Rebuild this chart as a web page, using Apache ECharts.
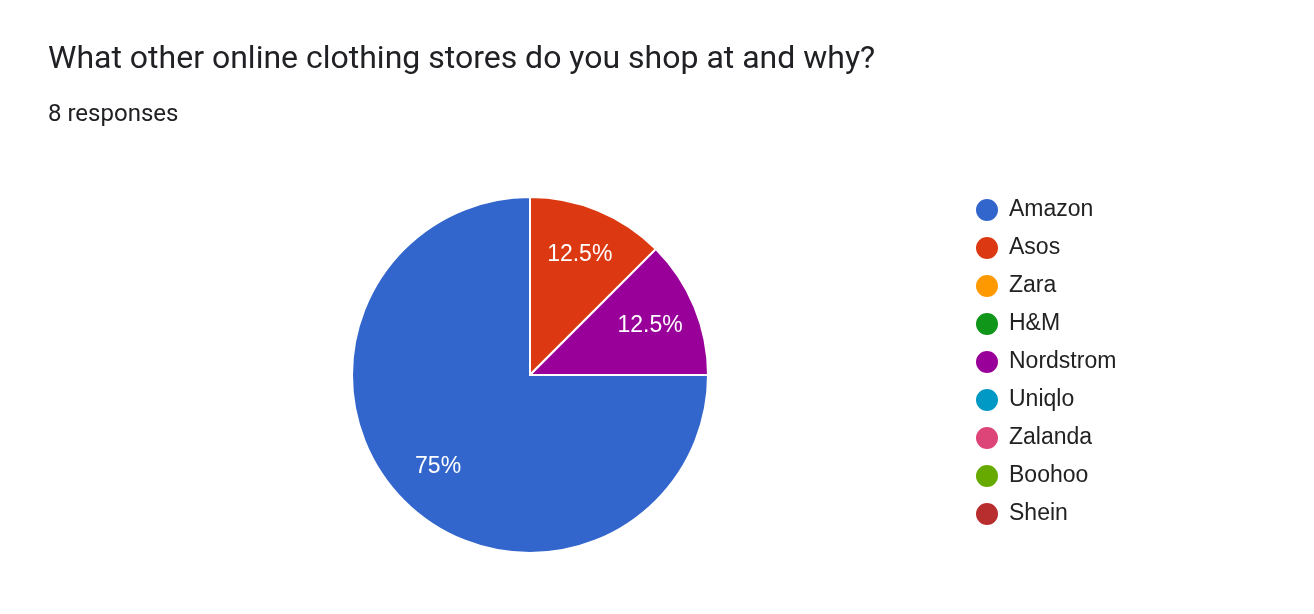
<!DOCTYPE html>
<html>
<head>
<meta charset="utf-8">
<script src="https://cdn.jsdelivr.net/npm/echarts@6/dist/echarts.min.js"></script>
<style>
html,body{margin:0;padding:0;background:#fff;}
#chart{width:1314px;height:614px;}
</style>
</head>
<body>
<div id="chart"></div>
<script>
const titleText = 'What other online clothing stores do you shop at and why?';
const subtitleText = '8 responses';
const categories = ['Amazon', 'Asos', 'Zara', 'H&M', 'Nordstrom', 'Uniqlo', 'Zalanda', 'Boohoo', 'Shein'];
const values = [6, 1, 0, 0, 1, 0, 0, 0, 0];
const colors = ['#3366cc', '#dc3912', '#ff9900', '#109618', '#990099', '#0099c6', '#dd4477', '#66aa00', '#b82e2e'];

const total = values.reduce((a, b) => a + b, 0);
const data = categories.map((c, i) => ({ name: c, value: values[i], itemStyle: { color: colors[i] } }));
const labelFont = '"Liberation Sans"';

const chart = echarts.init(document.getElementById('chart'), null, { renderer: 'canvas' });
chart.setOption({
  backgroundColor: '#fff',
  animation: false,
  title: [
    { text: titleText, left: 43, top: 38, textStyle: { fontFamily: 'Roboto', fontSize: 32, fontWeight: 'normal', color: '#202124', lineHeight: 34 } },
    { text: subtitleText, left: 43, top: 97, textStyle: { fontFamily: 'Roboto', fontSize: 24, fontWeight: 'normal', color: '#202124', lineHeight: 26 } }
  ],
  legend: {
    orient: 'vertical',
    left: 969,
    top: 192,
    icon: 'circle',
    itemWidth: 24,
    itemHeight: 24,
    itemGap: 12,
    data: categories,
    textStyle: { fontFamily: labelFont, fontSize: 23, color: '#222', lineHeight: 24, padding: [0, 0, 0, 5] }
  },
  series: [
    {
      type: 'pie',
      center: [530, 375],
      radius: [0, 178],
      startAngle: 0,
      clockwise: true,
      data: data,
      itemStyle: { borderColor: '#fff', borderWidth: 2 },
      label: { show: false },
      labelLine: { show: false },
      emphasis: { disabled: true }
    },
    {
      type: 'pie',
      center: [530, 375],
      radius: [76, 178],
      startAngle: 0,
      clockwise: true,
      silent: true,
      data: data.map(d => ({ name: d.name, value: d.value, itemStyle: { color: 'rgba(0,0,0,0)' } })),
      itemStyle: { borderWidth: 0 },
      label: {
        show: true,
        position: 'inside',
        fontFamily: labelFont,
        fontSize: 23,
        color: '#fff',
        formatter: p => p.value > 0 ? (Math.round(p.value / total * 1000) / 10) + '%' : ''
      },
      labelLine: { show: false },
      emphasis: { disabled: true },
      legendHoverLink: false
    }
  ]
});
</script>
</body>
</html>
